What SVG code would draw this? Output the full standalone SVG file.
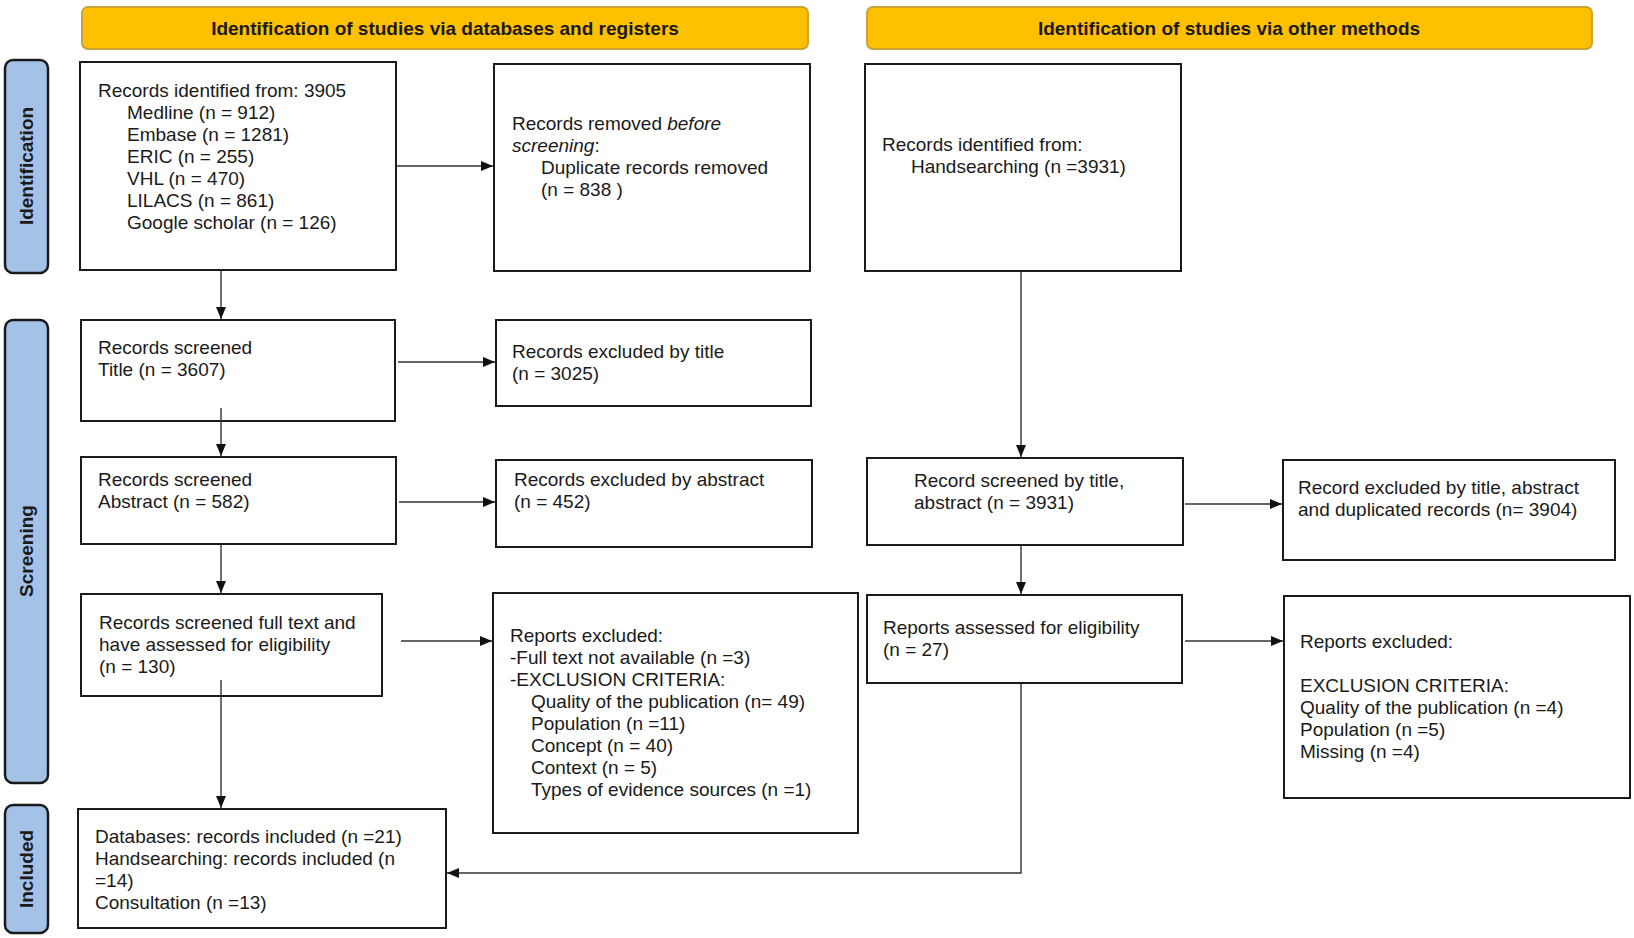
<svg xmlns="http://www.w3.org/2000/svg" width="1634" height="938" viewBox="0 0 1634 938">
<style>
.hdr{fill:#FFC000;stroke:#C9A23A;stroke-width:2}
.side{fill:#A4C2E8;stroke:#1a1a1a;stroke-width:2.5}
.box{fill:#fff;stroke:#1a1a1a;stroke-width:2}
text{font-family:"Liberation Sans",Arial,sans-serif;font-size:19px;fill:#1a1a1a}
.ht{font-weight:bold;font-size:19px;text-anchor:middle}
.st{font-weight:bold;font-size:19px;text-anchor:middle}
.con{fill:none;stroke:#333;stroke-width:1.4}
</style>
<defs>
<marker id="ah" viewBox="0 0 12 10" refX="12" refY="5" markerWidth="12" markerHeight="10" markerUnits="userSpaceOnUse" orient="auto">
<path d="M0,0 L12,5 L0,10 Z" fill="#111"/>
</marker>
</defs>
<rect width="1634" height="938" fill="#fff"/>

<g id="header-databases">
<rect class="hdr" x="82" y="7" width="726" height="42" rx="6"/>
<text class="ht" x="445" y="35">Identification of studies via databases and registers</text>
</g>
<g id="header-other">
<rect class="hdr" x="867" y="7" width="725" height="42" rx="6"/>
<text class="ht" x="1229" y="35">Identification of studies via other methods</text>
</g>

<g id="side-identification">
<rect class="side" x="5" y="60" width="43" height="213" rx="8"/>
<text class="st" transform="translate(33,166) rotate(-90)">Identification</text>
</g>
<g id="side-screening">
<rect class="side" x="5" y="320" width="43" height="463" rx="8"/>
<text class="st" transform="translate(33,551) rotate(-90)">Screening</text>
</g>
<g id="side-included">
<rect class="side" x="5" y="805" width="43" height="128" rx="8"/>
<text class="st" transform="translate(33,869) rotate(-90)">Included</text>
</g>

<g id="records-identified">
<rect class="box" x="80" y="62" width="316" height="208"/>
<text x="98" y="97">Records identified from: 3905</text>
<text x="127" y="119">Medline (n = 912)</text>
<text x="127" y="141">Embase (n = 1281)</text>
<text x="127" y="163">ERIC (n = 255)</text>
<text x="127" y="185">VHL (n = 470)</text>
<text x="127" y="207">LILACS (n = 861)</text>
<text x="127" y="229">Google scholar (n = 126)</text>
</g>
<g id="records-removed">
<rect class="box" x="494" y="64" width="316" height="207"/>
<text x="512" y="130">Records removed <tspan font-style="italic">before</tspan></text>
<text x="512" y="152"><tspan font-style="italic">screening</tspan>:</text>
<text x="541" y="174">Duplicate records removed</text>
<text x="541" y="196">(n = 838 )</text>
</g>
<g id="records-handsearching">
<rect class="box" x="865" y="64" width="316" height="207"/>
<text x="882" y="151">Records identified from:</text>
<text x="911" y="173">Handsearching (n =3931)</text>
</g>
<g id="screened-title">
<rect class="box" x="81" y="320" width="314" height="101"/>
<text x="98" y="354">Records screened</text>
<text x="98" y="376">Title (n = 3607)</text>
</g>
<g id="excluded-title">
<rect class="box" x="496" y="320" width="315" height="86"/>
<text x="512" y="358">Records excluded by title</text>
<text x="512" y="380">(n = 3025)</text>
</g>
<g id="screened-abstract">
<rect class="box" x="81" y="457" width="315" height="87"/>
<text x="98" y="486">Records screened</text>
<text x="98" y="508">Abstract (n = 582)</text>
</g>
<g id="excluded-abstract">
<rect class="box" x="496" y="460" width="316" height="87"/>
<text x="514" y="486">Records excluded by abstract</text>
<text x="514" y="508">(n = 452)</text>
</g>
<g id="screened-title-abstract-other">
<rect class="box" x="867" y="458" width="316" height="87"/>
<text x="914" y="487">Record screened by title,</text>
<text x="914" y="509">abstract (n = 3931)</text>
</g>
<g id="excluded-other">
<rect class="box" x="1283" y="460" width="332" height="100"/>
<text x="1298" y="494">Record excluded by title, abstract</text>
<text x="1298" y="516">and duplicated records (n= 3904)</text>
</g>
<g id="screened-fulltext">
<rect class="box" x="81" y="594" width="301" height="102"/>
<text x="99" y="629">Records screened full text and</text>
<text x="99" y="651">have assessed for eligibility</text>
<text x="99" y="673">(n = 130)</text>
</g>
<g id="reports-excluded-db">
<rect class="box" x="493" y="593" width="365" height="240"/>
<text x="510" y="642">Reports excluded:</text>
<text x="510" y="664">-Full text not available (n =3)</text>
<text x="510" y="686">-EXCLUSION CRITERIA:</text>
<text x="531" y="708">Quality of the publication (n= 49)</text>
<text x="531" y="730">Population (n =11)</text>
<text x="531" y="752">Concept (n = 40)</text>
<text x="531" y="774">Context (n = 5)</text>
<text x="531" y="796">Types of evidence sources (n =1)</text>
</g>
<g id="reports-assessed-other">
<rect class="box" x="867" y="595" width="315" height="88"/>
<text x="883" y="634">Reports assessed for eligibility</text>
<text x="883" y="656">(n = 27)</text>
</g>
<g id="reports-excluded-other">
<rect class="box" x="1284" y="596" width="346" height="202"/>
<text x="1300" y="648">Reports excluded:</text>
<text x="1300" y="692">EXCLUSION CRITERIA:</text>
<text x="1300" y="714">Quality of the publication (n =4)</text>
<text x="1300" y="736">Population (n =5)</text>
<text x="1300" y="758">Missing (n =4)</text>
</g>
<g id="included">
<rect class="box" x="78" y="809" width="368" height="119"/>
<text x="95" y="843">Databases: records included (n =21)</text>
<text x="95" y="865">Handsearching: records included (n</text>
<text x="95" y="887">=14)</text>
<text x="95" y="909">Consultation (n =13)</text>
</g>

<g id="connectors">
<line class="con" x1="221" y1="271" x2="221" y2="319" marker-end="url(#ah)"/>
<line class="con" x1="397" y1="166" x2="493" y2="166" marker-end="url(#ah)"/>
<line class="con" x1="221" y1="408" x2="221" y2="456" marker-end="url(#ah)"/>
<line class="con" x1="398" y1="362" x2="495" y2="362" marker-end="url(#ah)"/>
<line class="con" x1="221" y1="545" x2="221" y2="593" marker-end="url(#ah)"/>
<line class="con" x1="399" y1="502" x2="495" y2="502" marker-end="url(#ah)"/>
<line class="con" x1="221" y1="680" x2="221" y2="808" marker-end="url(#ah)"/>
<line class="con" x1="401" y1="641" x2="492" y2="641" marker-end="url(#ah)"/>
<line class="con" x1="1021" y1="272" x2="1021" y2="457" marker-end="url(#ah)"/>
<line class="con" x1="1185" y1="504" x2="1282" y2="504" marker-end="url(#ah)"/>
<line class="con" x1="1021" y1="546" x2="1021" y2="594" marker-end="url(#ah)"/>
<line class="con" x1="1185" y1="641" x2="1283" y2="641" marker-end="url(#ah)"/>
<polyline class="con" points="1021,684 1021,873 447,873" marker-end="url(#ah)"/>
</g>
</svg>
